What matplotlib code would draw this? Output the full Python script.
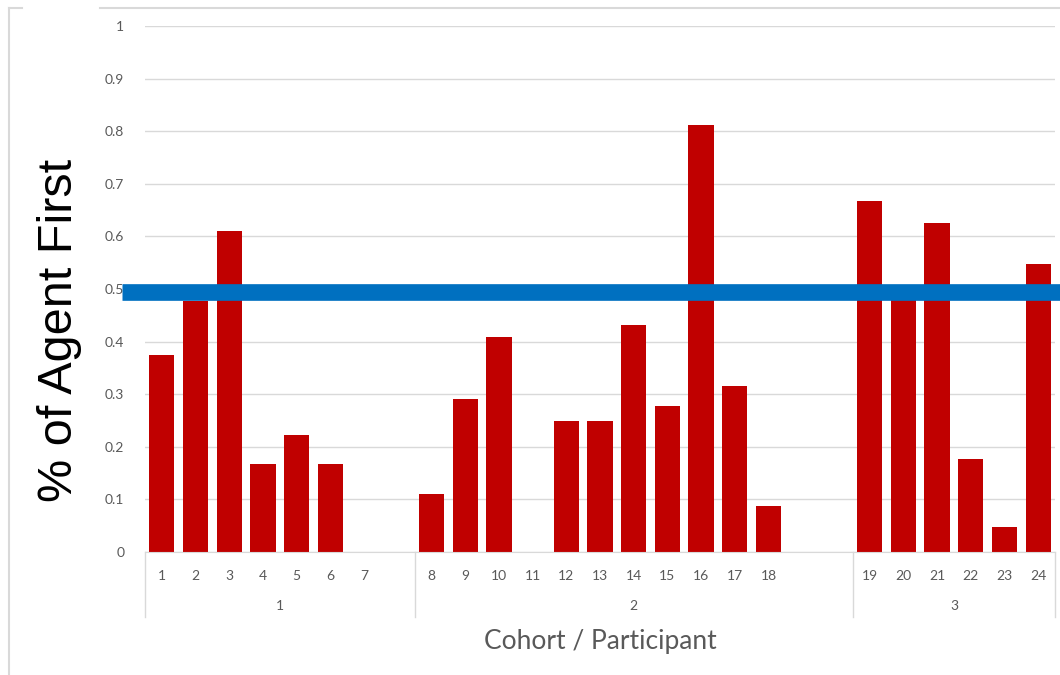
import numpy as np
import matplotlib.pyplot as plt
from matplotlib.lines import Line2D

# data (blank slots in the source sheet kept as '' / nan)
cohorts = ['1', '2', '3']
participants = [
    ['1', '2', '3', '4', '5', '6', '7', ''],
    ['8', '9', '10', '11', '12', '13', '14', '15', '16', '17', '18', '', ''],
    ['19', '20', '21', '22', '23', '24'],
]
values = [
    [0.375, 0.477, 0.611, 0.167, 0.222, 0.167, 0.0, np.nan],
    [0.111, 0.290, 0.409, 0.0, 0.250, 0.250, 0.432, 0.278, 0.811, 0.316, 0.087, np.nan, np.nan],
    [0.667, 0.485, 0.625, 0.176, 0.048, 0.548],
]
threshold = 0.494
yticks = [0, 0.1, 0.2, 0.3, 0.4, 0.5, 0.6, 0.7, 0.8, 0.9, 1]

labels = [p for grp in participants for p in grp]
vals = np.array([v for grp in values for v in grp], dtype=float)
x = np.arange(len(labels))

grey = '#595959'
fig = plt.figure(figsize=(10.6, 6.75), dpi=100)
ax = fig.add_axes([145 / 1060, 1 - 552 / 675, 910 / 1060, 526 / 675])

ax.bar(x, np.nan_to_num(vals), width=0.75, color='#C00000', zorder=2)
ax.set_xlim(-0.5, len(labels) - 0.5)
ax.set_ylim(0, 1)
ax.set_yticks(yticks, [f'{t:g}' for t in yticks])
ax.grid(axis='y', color='#D9D9D9', lw=1, zorder=0)
ax.set_axisbelow(True)
for s in ['left', 'right', 'top']:
    ax.spines[s].set_visible(False)
ax.spines['bottom'].set_color('#D9D9D9')
ax.tick_params(axis='y', length=0, pad=15, labelsize=10, labelcolor=grey)
ax.set_xticks(x, labels)
ax.tick_params(axis='x', length=0, pad=13, labelsize=10, labelcolor=grey)
for t in ax.get_xticklabels() + ax.get_yticklabels():
    t.set_family('Lato')

# cohort separators and labels
tr = ax.get_xaxis_transform()
start = -0.5
bounds = [start]
for c, grp in zip(cohorts, participants):
    end = start + len(grp)
    ax.text((start + end) / 2, -0.102, c, transform=tr, ha='center', va='center',
            fontsize=10, color=grey, family='Lato')
    bounds.append(end)
    start = end
for b in bounds:
    ax.add_line(Line2D([b, b], [0, -65 / 526], transform=tr, color='#D9D9D9',
                       lw=1, clip_on=False))

# threshold line, drawn over the tick labels like the original
ax.add_line(Line2D([-23 / 910, 1.01], [threshold, threshold],
                   transform=ax.get_yaxis_transform(), color='#0070C0', lw=12,
                   solid_capstyle='butt', clip_on=False, zorder=5))

ax.set_xlabel('Cohort / Participant', fontsize=19, color=grey, family='Lato',
              labelpad=34)
fig.text(60 / 1060, 1 - 330 / 675, '% of Agent First', rotation=90,
         fontsize=35, family='Liberation Sans', ha='center', va='center')

# faint outer frame
for xs, ys in [([9, 9], [8, 675]), ([9, 22], [8, 8]), ([100, 1060], [8, 8])]:
    fig.add_artist(Line2D([v / 1060 for v in xs], [1 - v / 675 for v in ys],
                          color='#D9D9D9', lw=1.5))

fig.savefig('out.png', dpi=100)
